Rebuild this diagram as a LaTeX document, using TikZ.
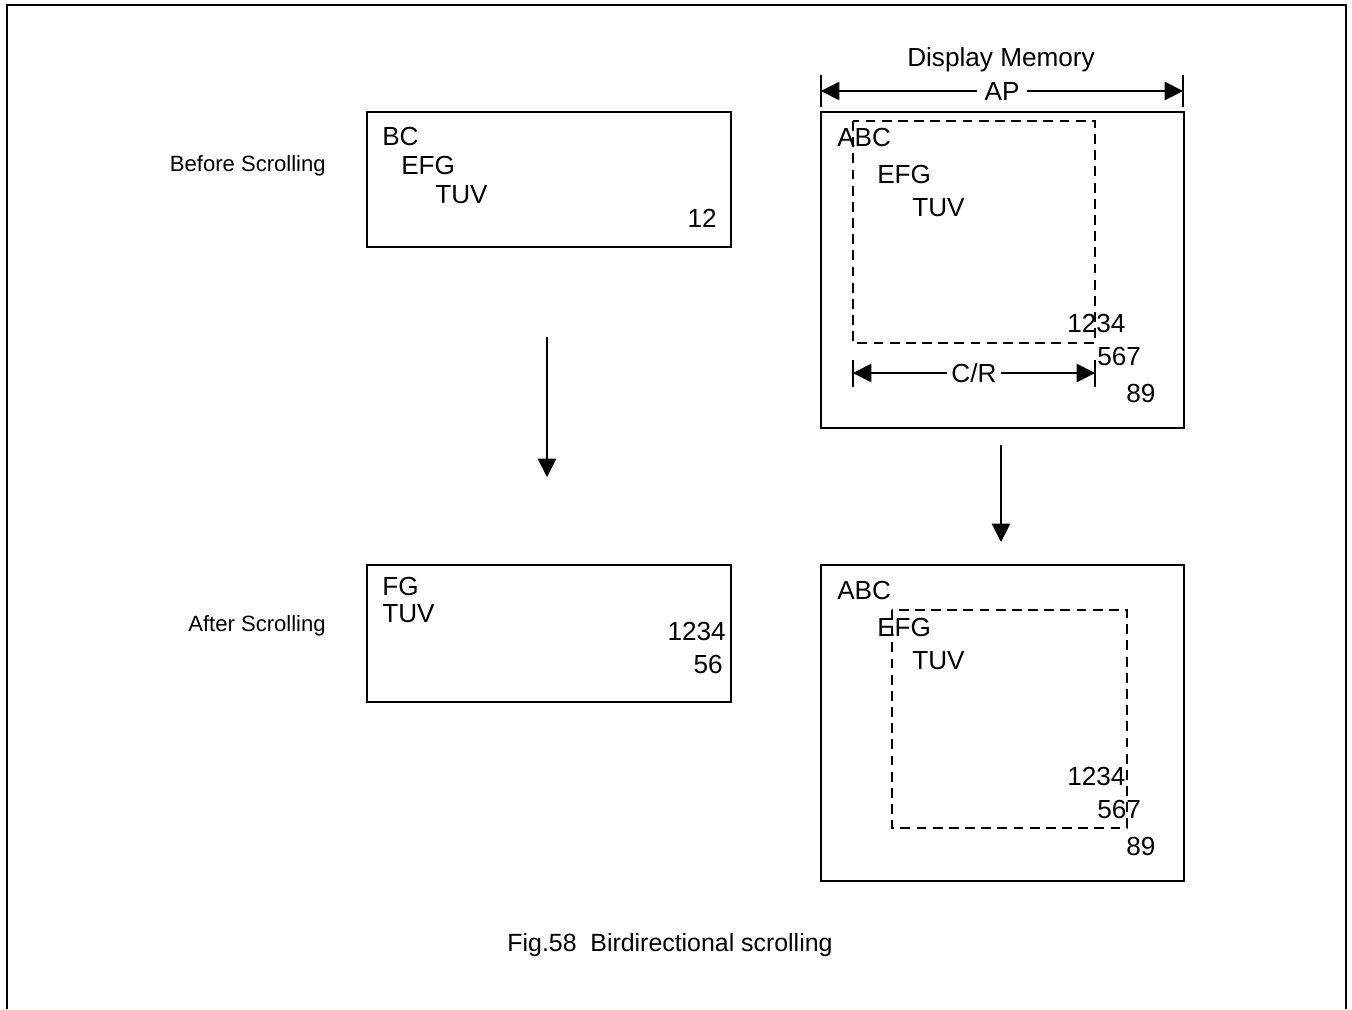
\documentclass[tikz,border=0pt]{standalone}
\usepackage{fontspec}
\setmainfont{Liberation Sans}
\usetikzlibrary{arrows.meta}
\tikzset{
    txt/.style={inner sep=0pt,anchor=base west,font=\fontsize{18.6}{21}\selectfont},
    rtxt/.style={txt,anchor=base east},
    lbl/.style={inner sep=0pt,anchor=base east,font=\fontsize{15.7}{18}\selectfont},
    boxline/.style={line width=1.6pt},
    win/.style={line width=1.3pt,dash pattern=on 7pt off 4.5pt},
    tick/.style={line width=1.3pt},
    arr/.style={line width=1.3pt,-{Triangle[length=13pt,width=13pt]}}
}

\begin{document}
\begin{tikzpicture}[x=0.025cm,y=-0.025cm]
    \useasboundingbox (0,0) rectangle (1352,1009);
    \draw[boxline] (7,1009) -- (7,5) -- (1346,5) -- (1346,1009);
    % screen before and after
    \draw[boxline] (367,112) rectangle (731,247);
    \draw[boxline] (367,565) rectangle (731,702);
    \node[lbl] (before) at (326,171) {Before Scrolling};
    \node[lbl] (after) at (326,631) {After Scrolling};
    \foreach \t/\x/\y [count=\i] in {BC/382/145,EFG/401/174,TUV/435/203}{
        \node[txt] (b\i) at (\x,\y) {\t};
    }
    \node[rtxt] (b4) at (717,227) {12};
    \node[txt] (a1) at (382,595) {FG};
    \node[txt] (a2) at (382,622) {TUV};
    \node[rtxt] (a3) at (726,640) {1234};
    \node[rtxt] (a4) at (723,673) {56};
    \coordinate (L1) at (547,337);
    \coordinate (L2) at (547,477);
    \draw[arr] (L1) -- (L2);
    % display memory
    \node[txt,anchor=base] (dm) at (1001,66) {Display Memory};
    \foreach \dy/\n in {0/m,453/n}{
        \draw[boxline] (821,112+\dy) rectangle (1184,428+\dy);
        \node[txt] (\n1) at (837,146+\dy) {ABC};
        \node[txt] (\n2) at (877,183+\dy) {EFG};
        \node[txt] (\n3) at (912,216+\dy) {TUV};
        \node[txt] (\n4) at (1067,332+\dy) {1234};
        \node[txt] (\n5) at (1097,365+\dy) {567};
        \node[txt] (\n6) at (1126,402+\dy) {89};
    }
    \draw[win] (853,121) rectangle (1095,343);
    \draw[win] (892,610) rectangle (1127,828);
    % AP and C/R
    \node[txt,anchor=center,inner xsep=5pt] (ap) at (1002,91) {AP};
    \coordinate (P1) at (821,91);
    \coordinate (P2) at (1183,91);
    \draw[tick] (821,75) -- (821,107) (1183,75) -- (1183,107);
    \draw[arr] (ap) -- (P1);
    \draw[arr] (ap) -- (P2);
    \node[txt,anchor=center,inner xsep=3pt] (cr) at (974,373) {C/R};
    \coordinate (Q1) at (853,373);
    \coordinate (Q2) at (1095,373);
    \draw[tick] (853,360) -- (853,387) (1095,360) -- (1095,387);
    \draw[arr] (cr) -- (Q1);
    \draw[arr] (cr) -- (Q2);
    \coordinate (R1) at (1001,445);
    \coordinate (R2) at (1001,542);
    \draw[arr] (R1) -- (R2);
    \node[txt,anchor=base,font=\fontsize{17.7}{20}\selectfont] (cap) at (670,951) {Fig.58\ \ Birdirectional scrolling};
\end{tikzpicture}
\end{document}
